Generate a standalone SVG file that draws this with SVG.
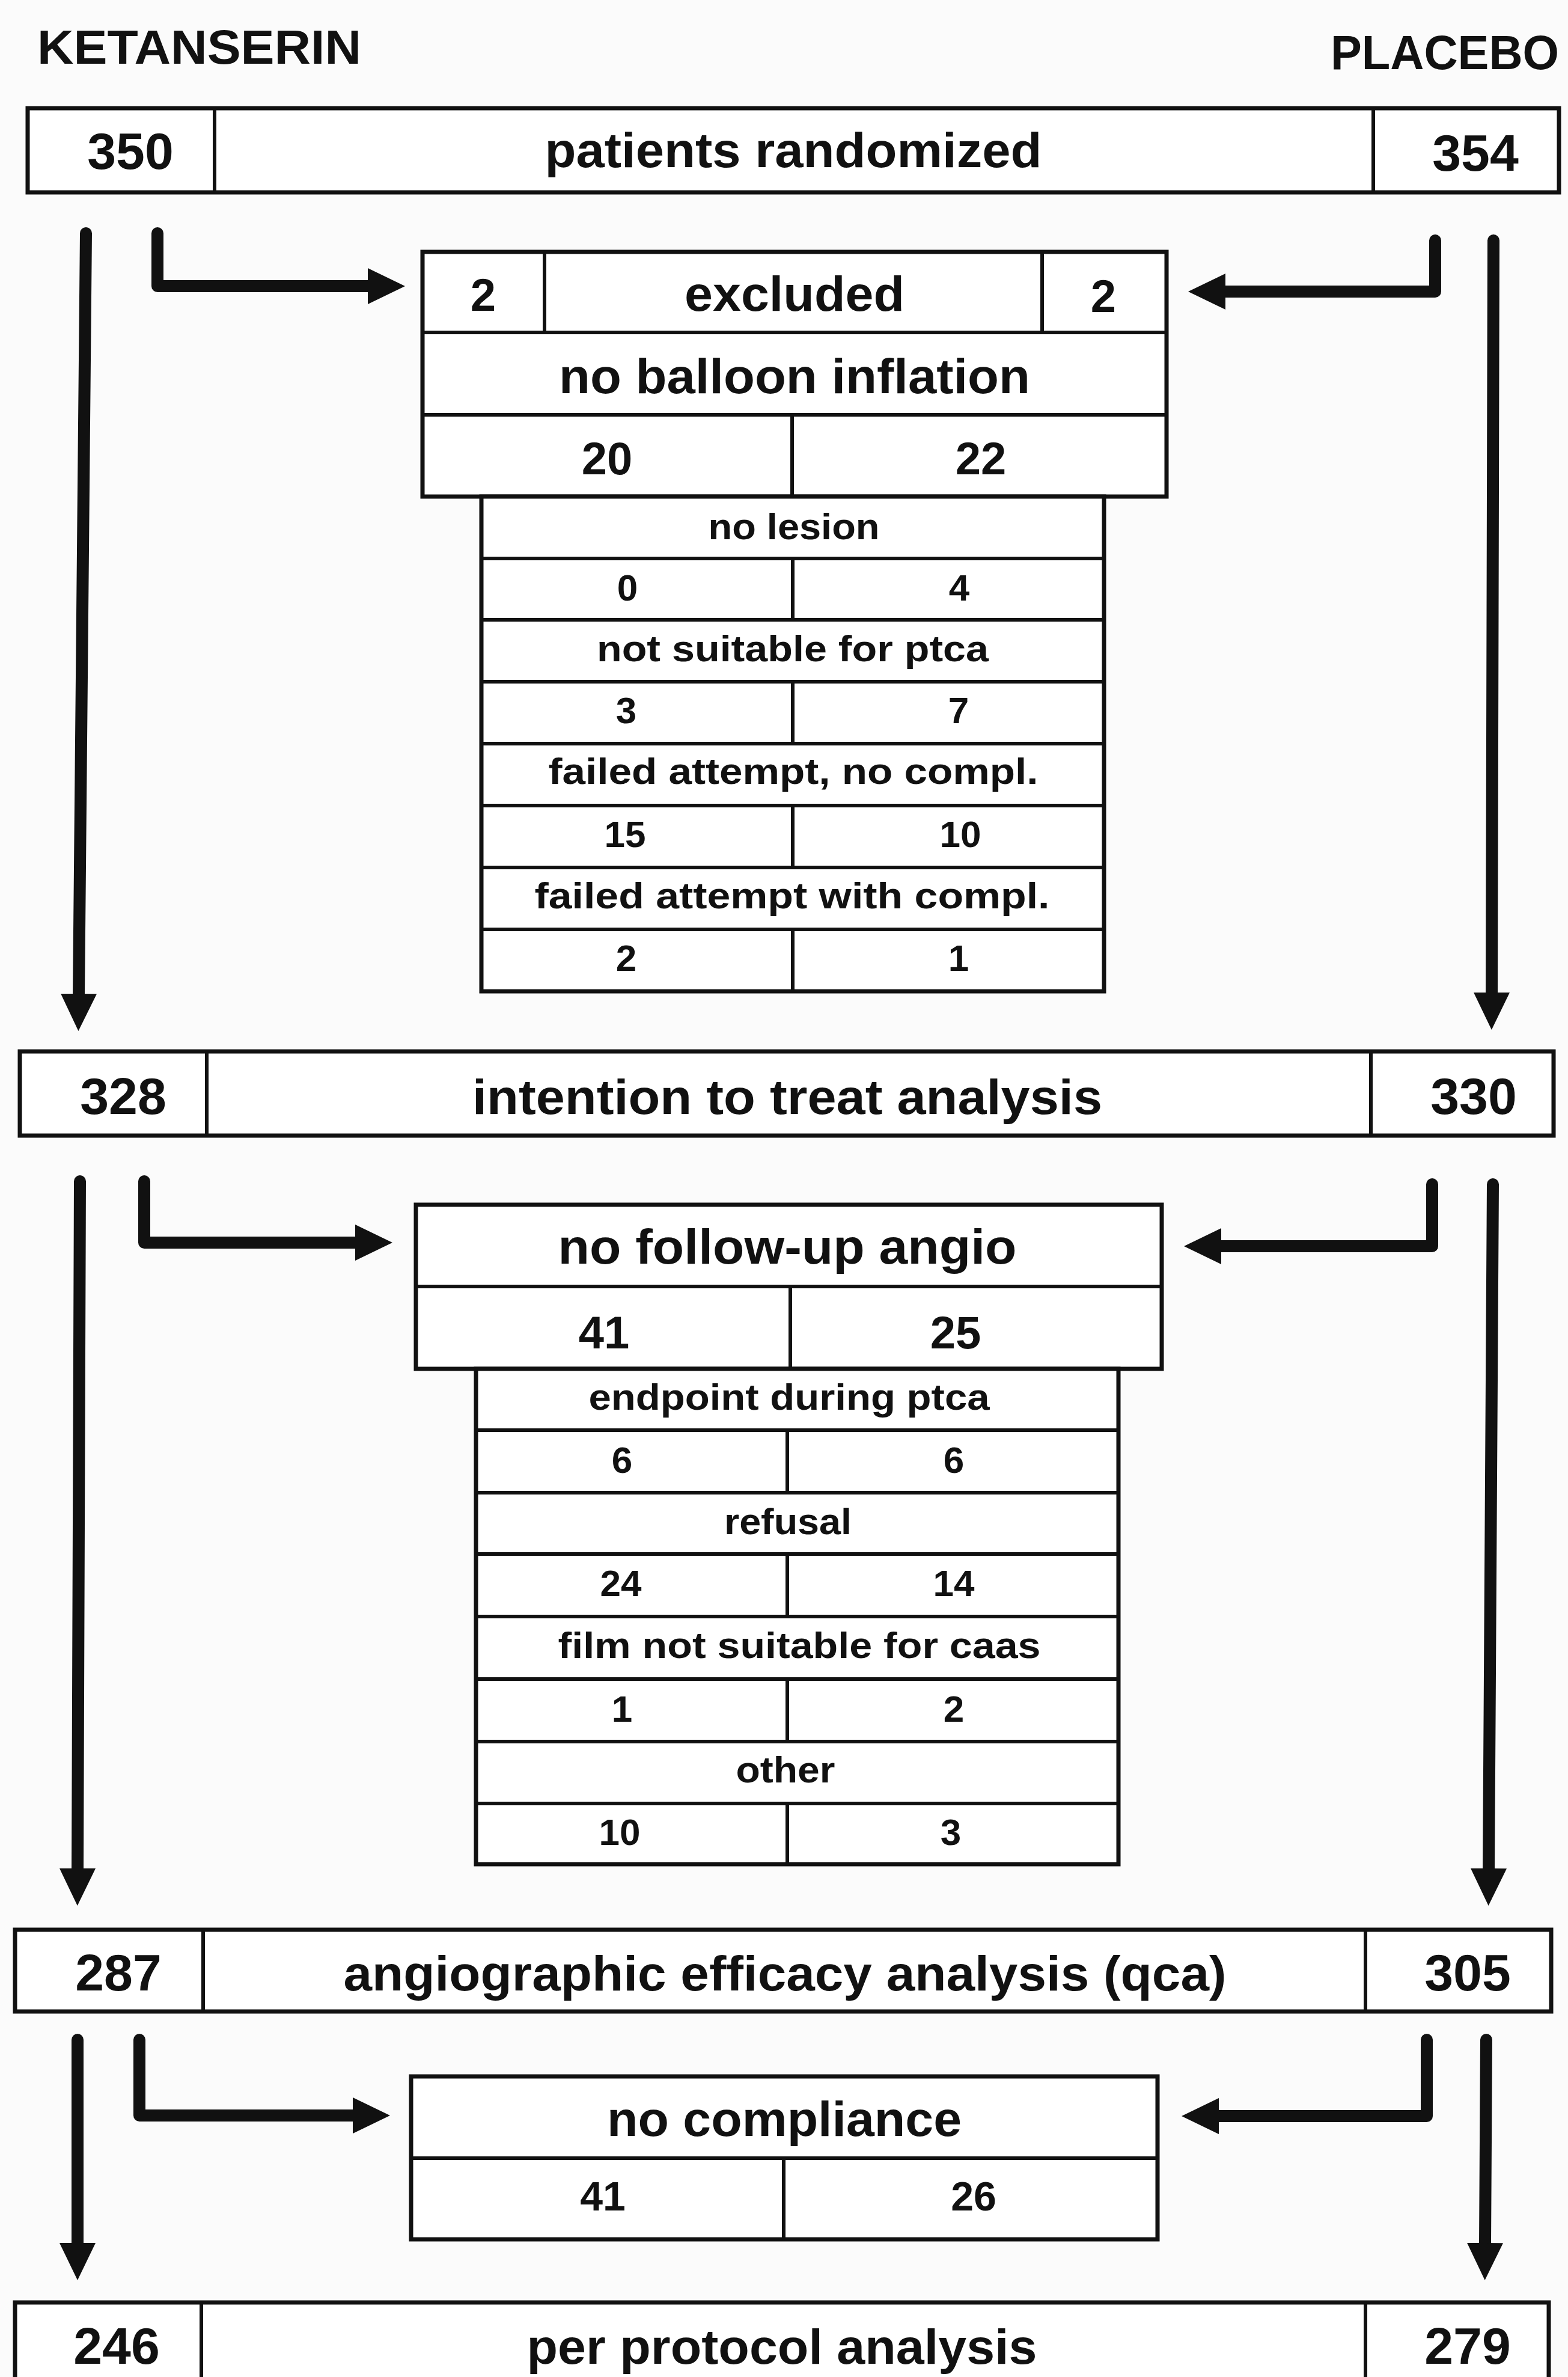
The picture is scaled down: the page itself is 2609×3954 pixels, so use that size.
<svg xmlns="http://www.w3.org/2000/svg" width="2609" height="3954" viewBox="0 0 2609 3954">
<style>
.bx{fill:#fff;stroke:#111;stroke-width:7}
.ln{stroke:#111;stroke-width:6;fill:none}
.t{font-family:"Liberation Sans",Arial,sans-serif;font-weight:bold;fill:#111;text-anchor:middle}
.h{font-size:80px;text-anchor:start}
.big{font-size:82px}
.num{font-size:86px}
.mid{font-size:76px}
.cmp{font-size:68px}
.sm{font-size:62px}
.smn{font-size:62px}
.cn{fill:none;stroke:#111;stroke-width:20;stroke-linecap:round;stroke-linejoin:round}
</style>
<defs>
<marker id="ah" viewBox="0 -30 62 60" refX="2" refY="0" markerWidth="62" markerHeight="60" markerUnits="userSpaceOnUse" orient="auto">
<path d="M0,-30 L62,0 L0,30 Z" fill="#111"/>
</marker>
</defs>
<rect x="0" y="0" width="2609" height="3954" fill="#fbfbfb"/>

<g id="headers">
<text class="t h" x="62" y="106" textLength="539" lengthAdjust="spacingAndGlyphs">KETANSERIN</text>
<text class="t h" x="2214" y="115" textLength="380" lengthAdjust="spacingAndGlyphs">PLACEBO</text>
</g>

<g id="randomized">
<rect class="bx" x="46" y="180" width="2548" height="140"/>
<line class="ln" x1="357" y1="180" x2="357" y2="320"/>
<line class="ln" x1="2285" y1="180" x2="2285" y2="320"/>
<text class="t num" x="217" y="281">350</text>
<text class="t big" x="1320" y="278" textLength="827" lengthAdjust="spacingAndGlyphs">patients randomized</text>
<text class="t num" x="2455" y="284">354</text>
</g>

<g id="excluded">
<rect class="bx" x="703" y="419" width="1238" height="407"/>
<line class="ln" x1="703" y1="553" x2="1941" y2="553"/>
<line class="ln" x1="703" y1="690" x2="1941" y2="690"/>
<line class="ln" x1="906" y1="419" x2="906" y2="553"/>
<line class="ln" x1="1734" y1="419" x2="1734" y2="553"/>
<line class="ln" x1="1318" y1="690" x2="1318" y2="826"/>
<text class="t mid" x="804" y="517">2</text>
<text class="t big" x="1322" y="517" textLength="366" lengthAdjust="spacingAndGlyphs">excluded</text>
<text class="t mid" x="1836" y="519">2</text>
<text class="t big" x="1322" y="654" textLength="784" lengthAdjust="spacingAndGlyphs">no balloon inflation</text>
<text class="t mid" x="1010" y="789">20</text>
<text class="t mid" x="1632" y="789">22</text>
</g>

<g id="balloon-reasons">
<rect class="bx" x="801" y="826" width="1036" height="823"/>
<line class="ln" x1="801" y1="929" x2="1837" y2="929"/>
<line class="ln" x1="801" y1="1031" x2="1837" y2="1031"/>
<line class="ln" x1="801" y1="1134" x2="1837" y2="1134"/>
<line class="ln" x1="801" y1="1237" x2="1837" y2="1237"/>
<line class="ln" x1="801" y1="1340" x2="1837" y2="1340"/>
<line class="ln" x1="801" y1="1443" x2="1837" y2="1443"/>
<line class="ln" x1="801" y1="1546" x2="1837" y2="1546"/>
<line class="ln" x1="1319" y1="929" x2="1319" y2="1031"/>
<line class="ln" x1="1319" y1="1134" x2="1319" y2="1237"/>
<line class="ln" x1="1319" y1="1340" x2="1319" y2="1443"/>
<line class="ln" x1="1319" y1="1546" x2="1319" y2="1649"/>
<text class="t sm" x="1321" y="897" textLength="285" lengthAdjust="spacingAndGlyphs">no lesion</text>
<text class="t smn" x="1044" y="999">0</text>
<text class="t smn" x="1596" y="999">4</text>
<text class="t sm" x="1319" y="1100" textLength="652" lengthAdjust="spacingAndGlyphs">not suitable for ptca</text>
<text class="t smn" x="1042" y="1203">3</text>
<text class="t smn" x="1595" y="1203">7</text>
<text class="t sm" x="1320" y="1304" textLength="815" lengthAdjust="spacingAndGlyphs">failed attempt, no compl.</text>
<text class="t smn" x="1040" y="1409">15</text>
<text class="t smn" x="1598" y="1409">10</text>
<text class="t sm" x="1318" y="1511" textLength="857" lengthAdjust="spacingAndGlyphs">failed attempt with compl.</text>
<text class="t smn" x="1042" y="1615">2</text>
<text class="t smn" x="1595" y="1615">1</text>
</g>

<g id="intention">
<rect class="bx" x="33" y="1749" width="2552" height="140"/>
<line class="ln" x1="344" y1="1749" x2="344" y2="1889"/>
<line class="ln" x1="2281" y1="1749" x2="2281" y2="1889"/>
<text class="t num" x="205" y="1853">328</text>
<text class="t big" x="1310" y="1853" textLength="1048" lengthAdjust="spacingAndGlyphs">intention to treat analysis</text>
<text class="t num" x="2452" y="1853">330</text>
</g>

<g id="no-followup">
<rect class="bx" x="692" y="2004" width="1241" height="273"/>
<line class="ln" x1="692" y1="2140" x2="1933" y2="2140"/>
<line class="ln" x1="1315" y1="2140" x2="1315" y2="2277"/>
<text class="t big" x="1310" y="2102" textLength="763" lengthAdjust="spacingAndGlyphs">no follow-up angio</text>
<text class="t mid" x="1005" y="2243">41</text>
<text class="t mid" x="1590" y="2243">25</text>
</g>

<g id="followup-reasons">
<rect class="bx" x="792" y="2277" width="1069" height="824"/>
<line class="ln" x1="792" y1="2379" x2="1861" y2="2379"/>
<line class="ln" x1="792" y1="2483" x2="1861" y2="2483"/>
<line class="ln" x1="792" y1="2585" x2="1861" y2="2585"/>
<line class="ln" x1="792" y1="2689" x2="1861" y2="2689"/>
<line class="ln" x1="792" y1="2793" x2="1861" y2="2793"/>
<line class="ln" x1="792" y1="2897" x2="1861" y2="2897"/>
<line class="ln" x1="792" y1="3000" x2="1861" y2="3000"/>
<line class="ln" x1="1310" y1="2379" x2="1310" y2="2483"/>
<line class="ln" x1="1310" y1="2585" x2="1310" y2="2689"/>
<line class="ln" x1="1310" y1="2793" x2="1310" y2="2897"/>
<line class="ln" x1="1310" y1="3000" x2="1310" y2="3101"/>
<text class="t sm" x="1313" y="2345" textLength="667" lengthAdjust="spacingAndGlyphs">endpoint during ptca</text>
<text class="t smn" x="1035" y="2450">6</text>
<text class="t smn" x="1587" y="2450">6</text>
<text class="t sm" x="1311" y="2552" textLength="212" lengthAdjust="spacingAndGlyphs">refusal</text>
<text class="t smn" x="1033" y="2655">24</text>
<text class="t smn" x="1587" y="2655">14</text>
<text class="t sm" x="1330" y="2758" textLength="803" lengthAdjust="spacingAndGlyphs">film not suitable for caas</text>
<text class="t smn" x="1035" y="2864">1</text>
<text class="t smn" x="1587" y="2864">2</text>
<text class="t sm" x="1307" y="2965" textLength="165" lengthAdjust="spacingAndGlyphs">other</text>
<text class="t smn" x="1031" y="3069">10</text>
<text class="t smn" x="1582" y="3069">3</text>
</g>

<g id="efficacy">
<rect class="bx" x="25" y="3210" width="2556" height="136"/>
<line class="ln" x1="338" y1="3210" x2="338" y2="3346"/>
<line class="ln" x1="2272" y1="3210" x2="2272" y2="3346"/>
<text class="t num" x="197" y="3311">287</text>
<text class="t big" x="1306" y="3311" textLength="1469" lengthAdjust="spacingAndGlyphs">angiographic efficacy analysis (qca)</text>
<text class="t num" x="2442" y="3311">305</text>
</g>

<g id="no-compliance">
<rect class="bx" x="684" y="3454" width="1242" height="271"/>
<line class="ln" x1="684" y1="3590" x2="1926" y2="3590"/>
<line class="ln" x1="1304" y1="3590" x2="1304" y2="3725"/>
<text class="t big" x="1305" y="3553" textLength="590" lengthAdjust="spacingAndGlyphs">no compliance</text>
<text class="t cmp" x="1003" y="3677">41</text>
<text class="t cmp" x="1620" y="3677">26</text>
</g>

<g id="per-protocol">
<rect class="bx" x="25" y="3830" width="2552" height="160"/>
<line class="ln" x1="335" y1="3830" x2="335" y2="3990"/>
<line class="ln" x1="2272" y1="3830" x2="2272" y2="3990"/>
<text class="t num" x="194" y="3932">246</text>
<text class="t big" x="1301" y="3932" textLength="849" lengthAdjust="spacingAndGlyphs">per protocol analysis</text>
<text class="t num" x="2442" y="3932">279</text>
</g>

<g id="connectors">
<path class="cn" d="M143,388 L131,1655" marker-end="url(#ah)"/>
<path class="cn" d="M262,388 V476 H614" marker-end="url(#ah)"/>
<path class="cn" d="M2388,400 V485 H2037" marker-end="url(#ah)"/>
<path class="cn" d="M2485,400 L2482,1653" marker-end="url(#ah)"/>
<path class="cn" d="M133,1965 L129,3110" marker-end="url(#ah)"/>
<path class="cn" d="M240,1965 V2067 H593" marker-end="url(#ah)"/>
<path class="cn" d="M2383,1970 V2073 H2030" marker-end="url(#ah)"/>
<path class="cn" d="M2484,1970 L2477,3110" marker-end="url(#ah)"/>
<path class="cn" d="M129,3393 V3733" marker-end="url(#ah)"/>
<path class="cn" d="M232,3393 V3519 H589" marker-end="url(#ah)"/>
<path class="cn" d="M2374,3393 V3520 H2026" marker-end="url(#ah)"/>
<path class="cn" d="M2473,3393 L2471,3733" marker-end="url(#ah)"/>
</g>
</svg>
